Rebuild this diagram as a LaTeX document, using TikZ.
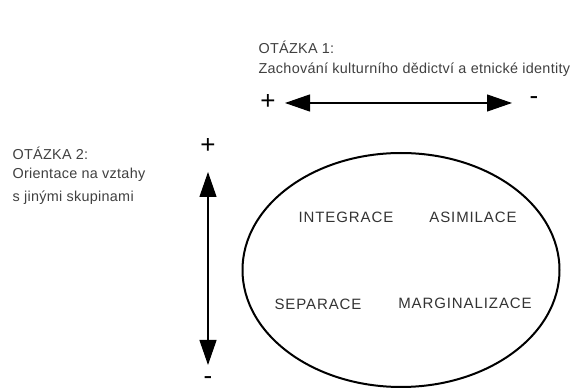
\documentclass[tikz,border=0pt]{standalone}
\usepackage{fontspec}
\setmainfont{Liberation Sans}
\usetikzlibrary{arrows.meta,shapes.geometric}

\begin{document}
\begin{tikzpicture}[x=1pt, y=-1pt, line width=1.2pt, line cap=round, line join=round,
    >={Triangle[length=25pt,width=17pt]},
    otazka/.style={inner sep=0pt, anchor=west, text=black!75,
      font=\fontsize{14.4}{16}\selectfont\addfontfeatures{LetterSpace=2}},
    strategie/.style={inner sep=0pt, text=black!80,
      font=\fontsize{15}{17}\selectfont\addfontfeatures{LetterSpace=6}},
    znamenko/.style={inner sep=0pt, font=\fontsize{26}{28}\selectfont}]
  \useasboundingbox (0,0) rectangle (574,390);

  % otazka 1, vodorovna osa
  \node[otazka] (q1) at (258,47) {OTÁZKA 1:};
  \node[otazka] (q1t) at (258,70) {Zachování kulturního dědictví a etnické identity};
  \node[znamenko] (hplus) at (268,102) {+};
  \node[znamenko] (hminus) at (534,101) {-};
  \coordinate (hl) at (285,103);
  \coordinate (hr) at (512,103);
  \draw[<->] (hl) -- (hr);

  % otazka 2, svisla osa
  \node[otazka] (q2) at (12,153) {OTÁZKA 2:};
  \node[otazka] (q2a) at (12,175) {Orientace na vztahy};
  \node[otazka] (q2b) at (12,198) {s jinými skupinami};
  \node[znamenko] (vplus) at (208,146) {+};
  \node[znamenko] (vminus) at (208,381) {-};
  \coordinate (vt) at (208,172);
  \coordinate (vb) at (208,365);
  \draw[<->] (vt) -- (vb);

  % ctyri strategie
  \node[ellipse, draw, line width=2pt, inner sep=0pt, minimum width=317pt,
    minimum height=234pt] (elipsa) at (401,270) {};
  \node[strategie] (integrace) at (346,217) {INTEGRACE};
  \node[strategie] (asimilace) at (473,217) {ASIMILACE};
  \node[strategie] (separace) at (318,304) {SEPARACE};
  \node[strategie] (marginalizace) at (465,303) {MARGINALIZACE};
\end{tikzpicture}
\end{document}
